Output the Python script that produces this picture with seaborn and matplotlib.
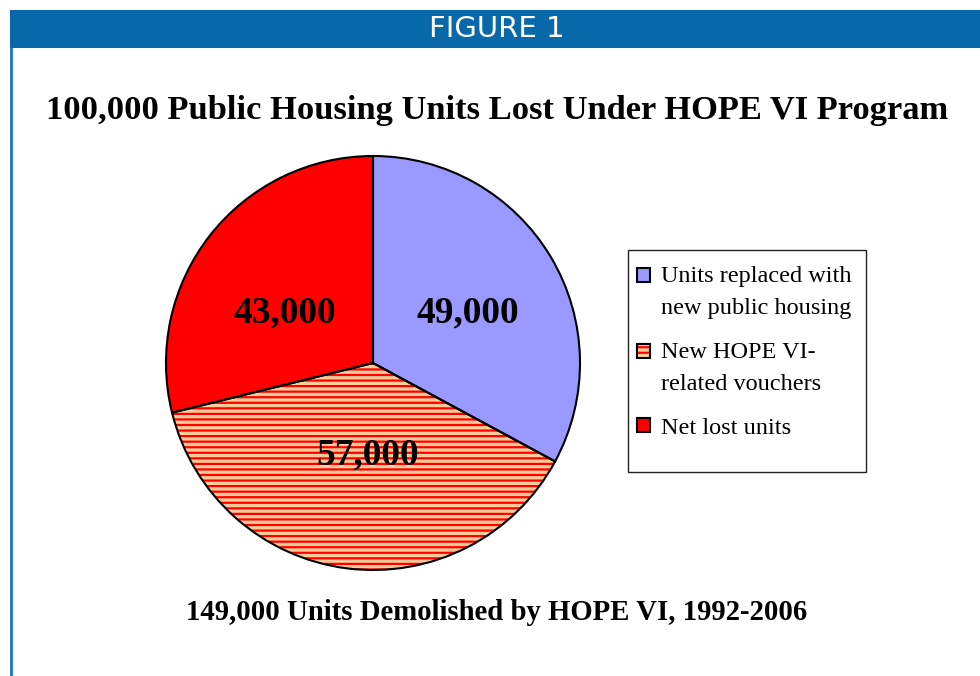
import matplotlib
matplotlib.use("Agg")
import matplotlib.pyplot as plt
import seaborn as sns
from matplotlib.patches import Rectangle
from matplotlib.legend_handler import HandlerBase
from matplotlib import font_manager as fm

sns.set_theme(style="white")
plt.rcParams["text.color"] = "black"

# ---- data ----
categories = ["Units replaced with\nnew public housing",
              "New HOPE VI-\nrelated vouchers",
              "Net lost units"]
values = [49000, 57000, 43000]
value_labels = ["49,000", "57,000", "43,000"]
title = "100,000 Public Housing Units Lost Under HOPE VI Program"
subtitle = "149,000 Units Demolished by HOPE VI, 1992-2006"
header = "FIGURE 1"

face_colors = ["#9999FF", "#FFCC99", "#FF0000"]
hatches = [None, "---", None]
hatch_colors = ["#9999FF", "#FF0000", "#FF0000"]

installed = {f.name for f in fm.fontManager.ttflist}
narrow = "Liberation Sans Narrow" if "Liberation Sans Narrow" in installed else "DejaVu Sans"
serif = "Liberation Serif"

plt.rcParams["hatch.linewidth"] = 1.6
W, H = 980, 676
fig = plt.figure(figsize=(W / 100, H / 100), dpi=100)
fig.patch.set_facecolor("white")

# header bar and frame line
fig.add_artist(Rectangle((10 / W, 1 - 48 / H), 970 / W, 38 / H, transform=fig.transFigure,
                         facecolor="#0868AA", edgecolor="none"))
fig.add_artist(plt.Line2D([11 / W, 11 / W], [0, 1 - 48 / H], transform=fig.transFigure,
                          color="#1A78C2", lw=2))
fig.text(497 / W, 1 - 29 / H, header, color="white", ha="center", va="center",
         fontsize=21, family=narrow)

fig.text(497 / W, 1 - 110 / H, title, ha="center", va="center", fontsize=24.8,
         fontweight="bold", family=serif)
fig.text(497 / W, 1 - 613 / H, subtitle, ha="center", va="center", fontsize=20.7,
         fontweight="bold", family=serif)

# pie
cx, cy, r = 373, 363, 207
ext = 1.1
ax = fig.add_axes([(cx - ext * r) / W, 1 - (cy + ext * r) / H, 2 * ext * r / W, 2 * ext * r / H])
wedges, _ = ax.pie(values, startangle=90, counterclock=False, colors=face_colors,
                   wedgeprops=dict(linewidth=0))
for w, h, hc in zip(wedges, hatches, hatch_colors):
    if h:
        w.set_edgecolor(hc)
        w.set_hatch(h)
ax.pie(values, startangle=90, counterclock=False, colors=["none"] * 3,
       wedgeprops=dict(linewidth=1.5, edgecolor="black"))
ax.set_xlim(-ext, ext)
ax.set_ylim(-ext, ext)
ax.set_aspect("equal")
ax.axis("off")

label_pos = [(468, 313), (368, 455), (285, 313)]
for (px, py), lab in zip(label_pos, value_labels):
    ax.text((px - cx) / r, (cy - py) / r, lab, ha="center", va="center",
            fontsize=27, fontweight="bold", family=serif, color="black")


# legend: swatch aligned with first line of each label
class Swatch:
    def __init__(self, fc, hatch, hc, shift):
        self.fc, self.hatch, self.hc, self.shift = fc, hatch, hc, shift


class SwatchHandler(HandlerBase):
    def create_artists(self, legend, orig, xdescent, ydescent, width, height, fontsize, trans):
        s = min(width, height)
        y0 = -ydescent + (height - s) / 2 + orig.shift
        base = Rectangle((-xdescent, y0), s, s, facecolor=orig.fc,
                         edgecolor=orig.hc if orig.hatch else orig.fc,
                         hatch=orig.hatch, lw=0, transform=trans)
        outline = Rectangle((-xdescent, y0), s, s, facecolor="none", edgecolor="black",
                            lw=1.5, transform=trans)
        return [base, outline]


leg_fs = 17.5
ls = 1.7
fig.add_artist(Rectangle((628 / W, 1 - 472 / H), 238 / W, 222 / H, transform=fig.transFigure,
                         facecolor="white", edgecolor="#222222", lw=1))
handles = []
for fc, h, hc, cat in zip(face_colors, hatches, hatch_colors, categories):
    nlines = cat.count("\n") + 1
    shift = (nlines - 1) * ls * 0.82 * leg_fs / 2
    handles.append(Swatch(fc, h, hc, shift))
leg = fig.legend(handles, categories, loc="upper left",
                 handler_map={Swatch: SwatchHandler()},
                 bbox_to_anchor=(637 / W, 1 - 266 / H), frameon=False,
                 prop=dict(family=serif, size=leg_fs), handlelength=0.55, handleheight=0.55,
                 handletextpad=0.45, labelspacing=0.93, borderaxespad=0, borderpad=0)
for t in leg.get_texts():
    t.set_linespacing(ls)

fig.savefig("out.png", dpi=100, facecolor="white")
